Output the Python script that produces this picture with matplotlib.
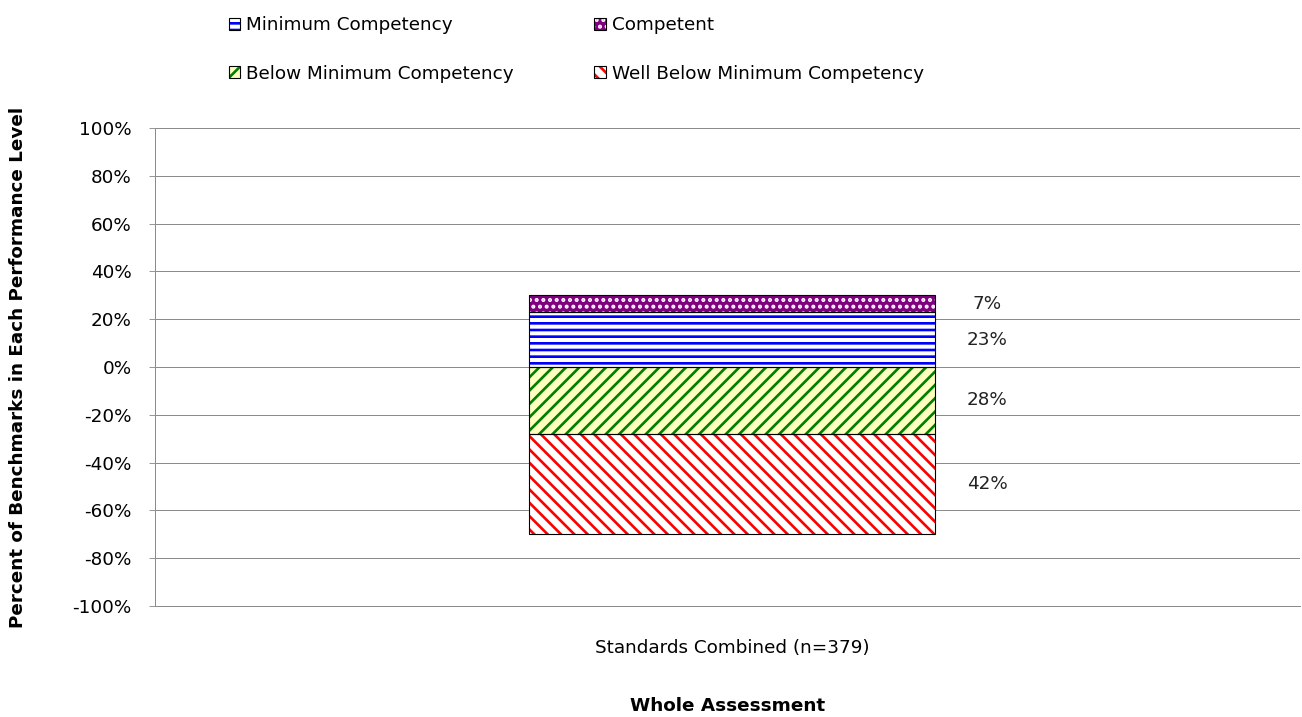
import numpy as np
import matplotlib.pyplot as plt
import matplotlib.patches as mpatches
from matplotlib.legend_handler import HandlerTuple

plt.rcParams['font.family'] = ['DejaVu Sans']
plt.rcParams['hatch.linewidth'] = 2.4

# data
categories = ['Standards Combined (n=379)']
competent = np.array([7])
minimum = np.array([23])
below = np.array([28])
well_below = np.array([42])

x = np.arange(len(categories))
width = 0.71
fs = 16.5

fig = plt.figure(figsize=(1302 / 80, 717 / 80), dpi=80)
ax = fig.add_axes([155 / 1302, 1 - 606 / 717, 1145 / 1302, 478 / 717])

# (name, values, bottom, face, hatch, hatch colour)
series = [
    ('Minimum Competency', minimum, np.zeros(1), 'white', '--', '#0000ff'),
    ('Competent', competent, minimum, '#800080', '..', 'white'),
    ('Below Minimum Competency', -below, np.zeros(1), '#ffffc0', '//', '#008000'),
    ('Well Below Minimum Competency', -well_below, -below, 'white', '\\\\', '#ff0000'),
]

handles = {}
for name, vals, bottom, face, hatch, hcol in series:
    ax.bar(x, vals, width, bottom=bottom, color=face, hatch=hatch,
           edgecolor=hcol, linewidth=0, zorder=2)
    ax.bar(x, vals, width, bottom=bottom, facecolor='none',
           edgecolor='black', linewidth=1.0, zorder=3)
    h1 = mpatches.Patch(facecolor=face, hatch=hatch, edgecolor=hcol, linewidth=0)
    h2 = mpatches.Patch(facecolor='none', edgecolor='black', linewidth=1.0)
    handles[name] = (h1, h2)
    for xi, v, b in zip(x, vals, bottom):
        ax.text(xi + 0.446, b + v / 2, f'{abs(v)}%', ha='center', va='center',
                fontsize=fs, color='#222222')

ax.set_xlim(-1.008, 0.992)
ax.set_ylim(-100, 100)
ax.set_yticks(np.arange(-100, 101, 20))
ax.set_yticklabels([f'{t}%' for t in range(-100, 101, 20)], fontsize=fs)
ax.set_xticks(x)
ax.set_xticklabels(categories, fontsize=fs)
ax.tick_params(axis='x', length=0, pad=30)
ax.tick_params(axis='y', direction='inout', length=10, color='#8c8c8c', pad=16)

ax.grid(axis='y', color='#8c8c8c', linewidth=0.9, zorder=0)
ax.set_axisbelow(True)
for s in ['top', 'right']:
    ax.spines[s].set_visible(False)
for s in ['left', 'bottom']:
    ax.spines[s].set_color('#8c8c8c')
    ax.spines[s].set_linewidth(0.9)

ax.set_ylabel('Percent of Benchmarks in Each Performance Level', fontsize=fs, fontweight='bold')
ax.yaxis.set_label_coords(-0.1197, 0.5)
ax.yaxis.label.set_va('center')
ax.set_xlabel('Whole Assessment', fontsize=fs, fontweight='bold')
ax.xaxis.set_label_coords(0.5, -0.209)
ax.xaxis.label.set_va('center')

order = ['Minimum Competency', 'Below Minimum Competency',
         'Competent', 'Well Below Minimum Competency']
fig.legend([handles[n] for n in order], order, ncol=2, loc='upper left',
           bbox_to_anchor=(212 / 1302, 1 - 0 / 717), frameon=False, fontsize=fs,
           handler_map={tuple: HandlerTuple(ndivide=1)},
           handlelength=0.65, handleheight=0.65, handletextpad=0.3,
           labelspacing=1.65, columnspacing=4.4)

fig.savefig('out.png', dpi=80)
